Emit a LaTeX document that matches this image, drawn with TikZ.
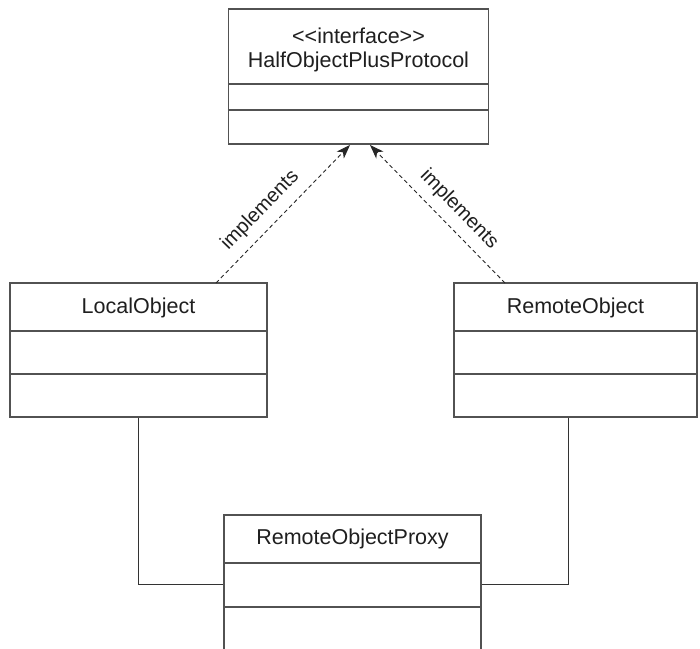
\documentclass[tikz,border=0pt]{standalone}
\usepackage{fontspec}
\setmainfont{Liberation Sans}[Ligatures=TeXOff]
\usetikzlibrary{arrows.meta,calc}
\begin{document}
\begin{tikzpicture}[x=1pt,y=-1pt,
  ln/.style={draw=black!68,line width=1.3pt},
  box/.style={ln,rectangle,inner sep=0pt,fill=white},
  lbl/.style={font=\fontsize{21.5}{23}\selectfont,text=black!88,inner sep=0pt},
  impl/.style={draw=black!85,line width=0.9pt,dash pattern=on 4pt off 3pt,-{Stealth[length=14pt,width=10pt,inset=4pt]}},
  impltext/.style={font=\fontsize{20}{21}\selectfont,text=black!88,sloped,above=9pt,inner sep=0pt},
  assoc/.style={draw=black!80,line width=1pt}]
\useasboundingbox (0,0) rectangle (700,648);
% top interface box
\node[box,minimum width=260pt,minimum height=135pt] (iface) at (358.5,76.5) {};
\draw[ln] (iface.west |- 0,84) -- (iface.east |- 0,84);
\draw[ln] (iface.west |- 0,110) -- (iface.east |- 0,110);
\node[lbl] (st) at (358.5,36) {<<interface>>};
\node[lbl] (nm) at (358.5,62) {HalfObjectPlusProtocol};
% LocalObject
\node[box,minimum width=257pt,minimum height=134pt] (local) at (138.5,350) {};
\draw[ln] (local.west |- 0,331) -- (local.east |- 0,331);
\draw[ln] (local.west |- 0,374) -- (local.east |- 0,374);
\node[lbl] (lt) at (138.5,308) {LocalObject};
% RemoteObject
\node[box,minimum width=243pt,minimum height=134pt] (remote) at (575.5,350) {};
\draw[ln] (remote.west |- 0,331) -- (remote.east |- 0,331);
\draw[ln] (remote.west |- 0,374) -- (remote.east |- 0,374);
\node[lbl] (rt) at (575.5,308) {RemoteObject};
% RemoteObjectProxy
\node[box,minimum width=257pt,minimum height=145pt] (proxy) at (352.5,587.5) {};
\draw[ln] (proxy.west |- 0,563) -- (proxy.east |- 0,563);
\draw[ln] (proxy.west |- 0,607) -- (proxy.east |- 0,607);
\node[lbl] (pt) at (352.5,539) {RemoteObjectProxy};
% implements
\coordinate (la) at (216,283);
\coordinate (lb) at (350,145);
\coordinate (ra) at (505,283);
\coordinate (rb) at (370,145);
\draw[impl] (la) -- node[impltext,pos=0.43] (il) {implements} (lb);
\draw[impl] (ra) -- node[impltext,pos=0.44] (ir) {implements} (rb);
% associations
\coordinate (lc) at (138,584);
\coordinate (rc) at (568,584);
\draw[assoc] (local.south -| lc) -- (lc) -- (proxy.west |- lc);
\draw[assoc] (remote.south -| rc) -- (rc) -- (proxy.east |- rc);
\end{tikzpicture}
\end{document}
